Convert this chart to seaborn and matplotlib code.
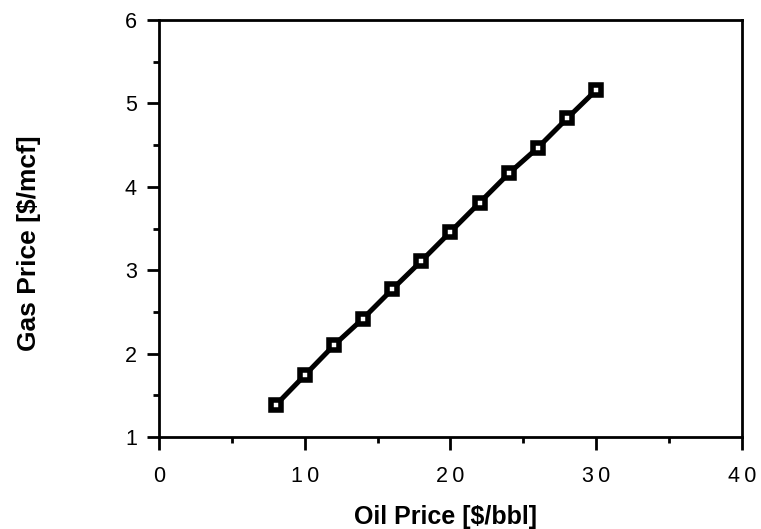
import matplotlib
matplotlib.use("Agg")
import matplotlib.pyplot as plt
import seaborn as sns
import pandas as pd
from matplotlib.ticker import MultipleLocator

oil_price = [8, 10, 12, 14, 16, 18, 20, 22, 24, 26, 28, 30]
gas_price = [1.38, 1.74, 2.10, 2.42, 2.77, 3.11, 3.46, 3.81, 4.16, 4.47, 4.82, 5.16]
x_ticks = [0, 10, 20, 30, 40]
y_ticks = [1, 2, 3, 4, 5, 6]

sns.set_theme(style="ticks")
plt.rcParams['font.family'] = ['Liberation Sans', 'DejaVu Sans']
plt.rcParams['text.color'] = 'black'
plt.rcParams['axes.labelcolor'] = 'black'

df = pd.DataFrame({"oil": oil_price, "gas": gas_price})

fig = plt.figure(figsize=(7.61, 5.29), dpi=100)
ax = fig.add_axes([0.2089, 0.1739, 0.7661, 0.7883])

sns.lineplot(data=df, x="oil", y="gas", ax=ax, color="black", linewidth=3.6,
             marker="s", markersize=7, markerfacecolor="white",
             markeredgecolor="black", markeredgewidth=4)

ax.set_xlim(0, 40)
ax.set_ylim(1, 6)
ax.set_xticks(x_ticks)
ax.set_yticks(y_ticks)
ax.set_xticklabels(["\u2009".join(str(t)) for t in x_ticks])
ax.xaxis.set_minor_locator(MultipleLocator(5))
ax.yaxis.set_minor_locator(MultipleLocator(0.5))
ax.tick_params(which="major", direction="out", length=9, width=2, labelsize=15.5, colors="black", pad=7)
ax.tick_params(which="minor", direction="out", length=4.5, width=2, colors="black")
ax.tick_params(axis="x", which="major", pad=12)
for s in ax.spines.values():
    s.set_linewidth(2)
    s.set_color("black")

ax.set_xlabel("Oil Price [$/bbl]", fontsize=18, fontweight="bold", labelpad=13, color="black")
ax.set_ylabel("Gas Price [$/mcf]", fontsize=19, fontweight="bold", labelpad=60, color="black")
ax.xaxis.label.set_x(0.492)
ax.yaxis.label.set_y(0.465)

fig.savefig("out.png", dpi=100)
